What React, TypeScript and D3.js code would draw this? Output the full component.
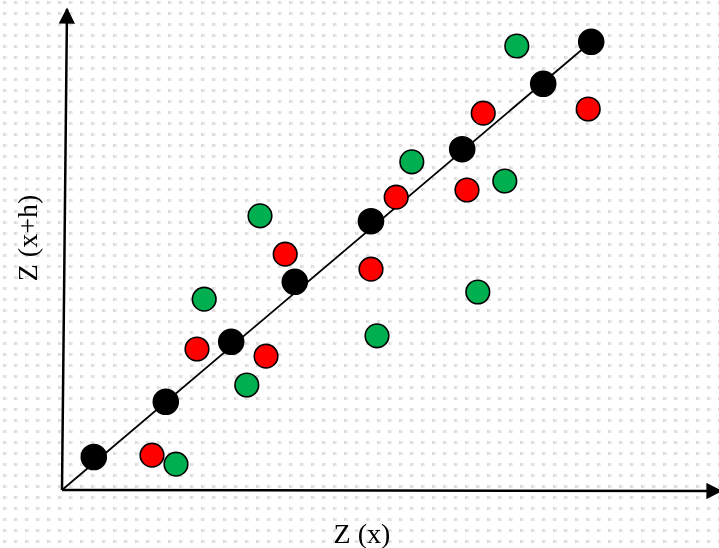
import React, { useRef, useEffect } from "react";
import * as d3 from "d3";

// values in chart units (x: Z(x), y: Z(x+h))
const blackX = [5.3, 17.3, 28.2, 38.8, 51.5, 66.7, 80.2, 88.2];
const blackY = [5.5, 14.7, 24.7, 34.7, 44.8, 56.8, 67.7, 74.7];
const redX = [15, 22.5, 34, 37.2, 51.5, 55.7, 67.5, 70.2, 87.7];
const redY = [5.8, 23.5, 22.3, 39.3, 36.8, 48.8, 50, 62.8, 63.5];
const greenX = [19, 23.7, 30.8, 33, 52.5, 58.3, 69.3, 73.8, 75.8];
const greenY = [4.3, 31.8, 17.5, 45.7, 25.7, 54.7, 33, 51.5, 74];
const xLabel = "Z (x)";
const yLabel = "Z (x+h)";

const W = 719;
const H = 548;

function App() {
  const ref = useRef<SVGSVGElement>(null);

  useEffect(() => {
    const svg = d3.select(ref.current);
    svg.selectAll("*").remove();

    const x = d3.scaleLinear().domain([0, 110]).range([62, 722]);
    const y = d3.scaleLinear().domain([0, 80]).range([490, 10]);

    const defs = svg.append("defs");
    const grad = defs.append("linearGradient").attr("id", "dotg");
    grad.append("stop").attr("offset", "0%").attr("stop-color", "#d6d6d6");
    grad.append("stop").attr("offset", "100%").attr("stop-color", "#f0f0f0");
    const pat = defs.append("pattern")
      .attr("id", "dots")
      .attr("width", 11).attr("height", 11)
      .attr("patternUnits", "userSpaceOnUse")
      .attr("x", 3).attr("y", 1);
    pat.append("rect").attr("width", 11).attr("height", 11).attr("fill", "#fff");
    pat.append("rect").attr("width", 4).attr("height", 3).attr("fill", "url(#dotg)");

    svg.append("rect").attr("width", W).attr("height", H).attr("fill", "url(#dots)");

    const arrow = defs.append("marker")
      .attr("id", "arr")
      .attr("viewBox", "0 0 10 10")
      .attr("refX", 9).attr("refY", 5)
      .attr("markerWidth", 6.5).attr("markerHeight", 6.5)
      .attr("markerUnits", "strokeWidth")
      .attr("orient", "auto");
    arrow.append("path").attr("d", "M0,0L10,5L0,10Z").attr("fill", "#000");

    // axes
    svg.append("line")
      .attr("x1", x(0)).attr("y1", y(0))
      .attr("x2", x(0) + 5).attr("y2", y(80) - 1)
      .attr("stroke", "#000").attr("stroke-width", 2.5)
      .attr("marker-end", "url(#arr)");
    svg.append("line")
      .attr("x1", x(0)).attr("y1", y(0))
      .attr("x2", 721).attr("y2", y(0) + 1)
      .attr("stroke", "#000").attr("stroke-width", 2.5)
      .attr("marker-end", "url(#arr)");

    // diagonal through black points
    svg.append("line")
      .attr("x1", x(0)).attr("y1", y(0))
      .attr("x2", x(blackX[blackX.length - 1])).attr("y2", y(blackY[blackY.length - 1]))
      .attr("stroke", "#000").attr("stroke-width", 1.8);

    const drawSet = (xs: number[], ys: number[], fill: string, r: number) => {
      svg.append("g").selectAll("circle")
        .data(xs.map((v, i) => [v, ys[i]]))
        .join("circle")
        .attr("cx", (d) => x(d[0]))
        .attr("cy", (d) => y(d[1]))
        .attr("r", r)
        .attr("fill", fill)
        .attr("stroke", "#000")
        .attr("stroke-width", 1.6);
    };
    drawSet(redX, redY, "#ff0000", 11.8);
    drawSet(greenX, greenY, "#00b050", 11.8);
    drawSet(blackX, blackY, "#000", 12.5);

    svg.append("text")
      .attr("x", 362).attr("y", 543)
      .attr("text-anchor", "middle")
      .attr("font-family", "'Liberation Serif', serif")
      .attr("font-size", 28)
      .text(xLabel);
    svg.append("text")
      .attr("transform", "translate(37,238) rotate(-90)")
      .attr("text-anchor", "middle")
      .attr("font-family", "'Liberation Serif', serif")
      .attr("font-size", 28)
      .text(yLabel);
  }, []);

  return (
    <div style={{ position: "fixed", left: 0, top: 0 }}>
      <svg ref={ref} width={W} height={H} style={{ display: "block" }} />
    </div>
  );
}

export default App;
